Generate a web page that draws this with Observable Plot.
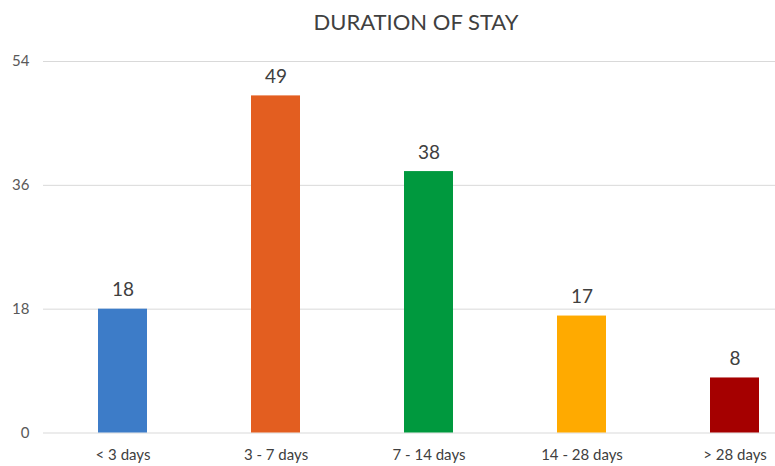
<!DOCTYPE html>
<html>
<head>
<meta charset="utf-8">
<script src="https://cdn.jsdelivr.net/npm/d3@7"></script>
<script src="https://cdn.jsdelivr.net/npm/@observablehq/plot@0.6"></script>
<style>
  html, body { margin: 0; padding: 0; background: #fff; }
  #wrap { width: 775px; height: 466px; position: relative; overflow: hidden; }
  #title { height: 40px; width: 775px; text-align: center; font-family: Lato, "Open Sans", sans-serif;
           font-size: 22px; color: #404040; line-height: 44px; padding-left: 57px; box-sizing: border-box; }
</style>
</head>
<body>
<div id="wrap">
  <div id="title">DURATION OF STAY</div>
  <div id="chart"></div>
</div>
<script>
const categories = ["< 3 days", "3 - 7 days", "7 - 14 days", "14 - 28 days", "> 28 days"];
const values = [18, 49, 38, 17, 8];
const colors = ["#3d7cc8", "#e35e20", "#00993e", "#ffaa00", "#a50000"];
const yTicks = [0, 18, 36, 54];

const data = categories.map((c, i) => ({category: c, value: values[i], color: colors[i]}));

const chart = Plot.plot({
  width: 775,
  height: 426,
  marginTop: 21,
  marginBottom: 33.5,
  marginLeft: 43,
  marginRight: 0,
  style: {fontFamily: "Lato, 'Open Sans', sans-serif", background: "#fff"},
  x: {domain: categories, range: [44.7, 812.7], paddingInner: 0.68, paddingOuter: 0.34, label: null},
  y: {domain: [0, 54], ticks: yTicks, label: null},
  marks: [
    Plot.ruleY(yTicks, {stroke: "#d9d9d9", strokeWidth: 1}),
    Plot.barY(data, {x: "category", y: "value", fill: "color"}),
    Plot.text(data, {x: "category", y: "value", text: d => String(d.value), dy: -19,
      fontSize: 19, fill: "#404040"}),
    Plot.axisY(yTicks, {tickSize: 0, tickPadding: 14, fontSize: 15, color: "#595959", label: null}),
    Plot.axisX({tickSize: 0, tickPadding: 16, fontSize: 15, color: "#404040", label: null})
  ]
});
document.getElementById("chart").appendChild(chart);
</script>
</body>
</html>
